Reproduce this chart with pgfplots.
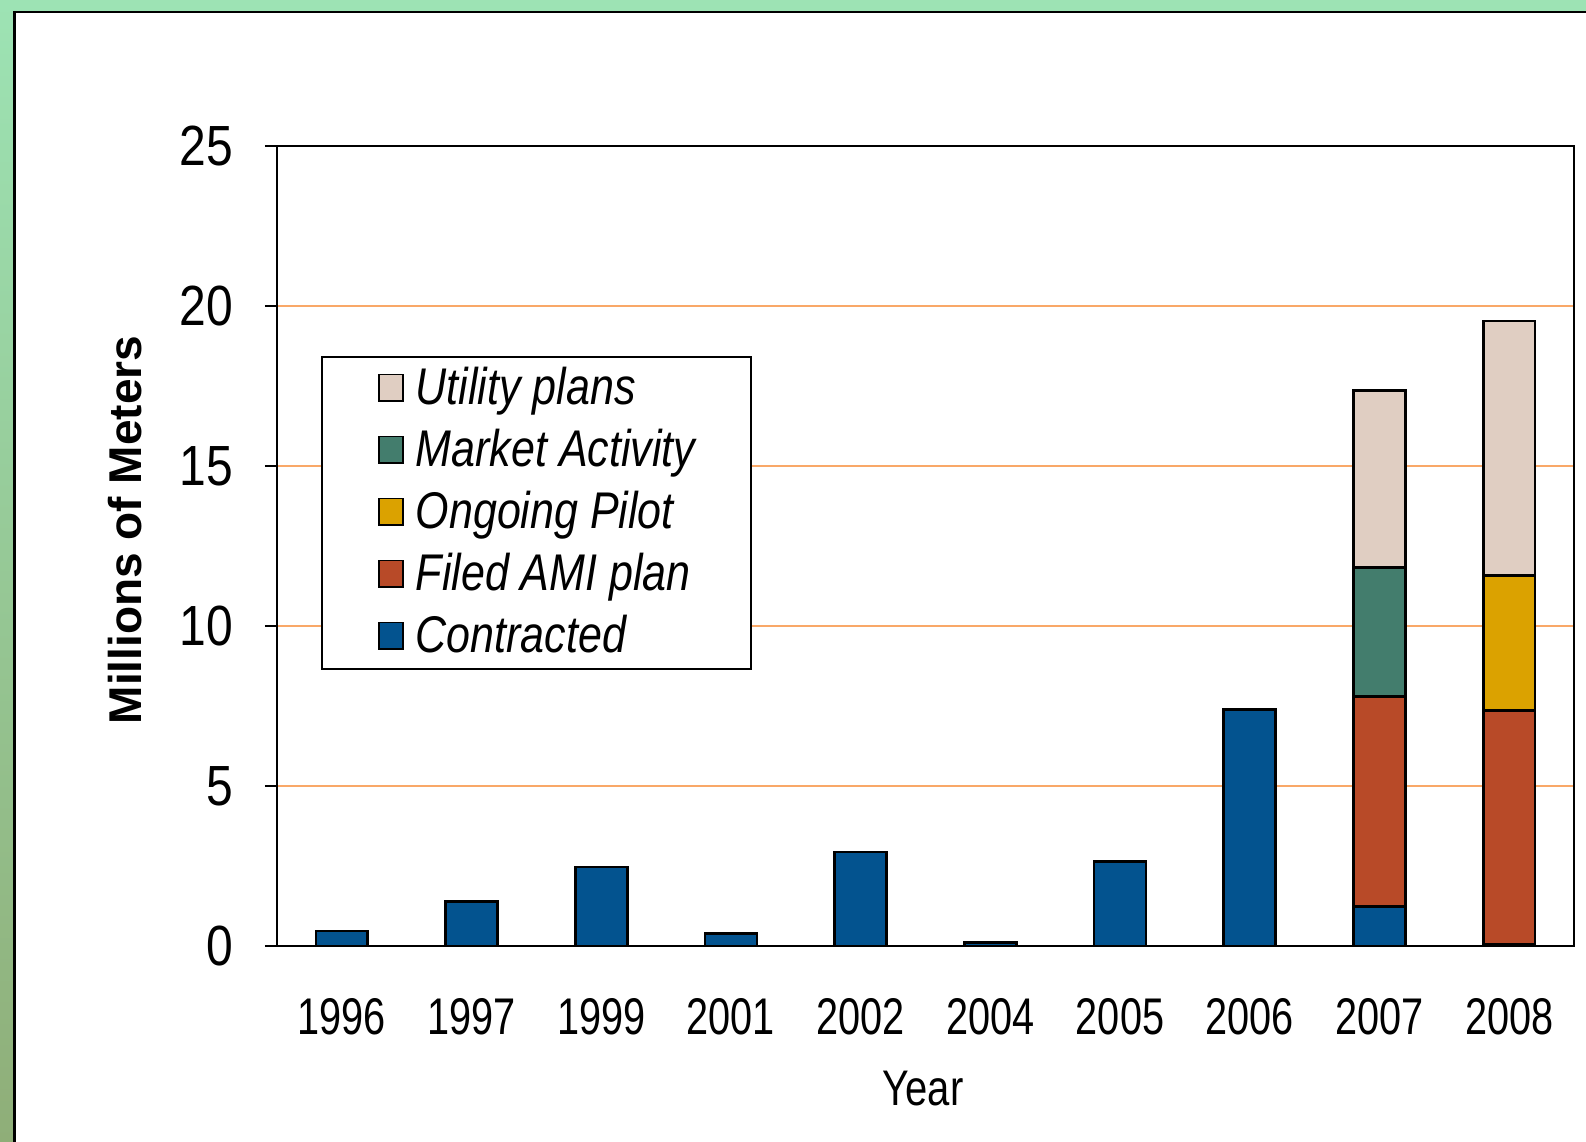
\documentclass[border=0pt]{standalone}
\usepackage{pgfplots}
\pgfplotsset{compat=1.18}
\usepackage{fontspec}
\setmainfont{Liberation Sans}

\definecolor{contracted}{HTML}{03538F}
\definecolor{filed}{HTML}{B84A28}
\definecolor{pilot}{HTML}{DBA200}
\definecolor{market}{HTML}{437D6D}
\definecolor{utility}{HTML}{E0CEC2}
\definecolor{gridorange}{HTML}{F9A868}
\definecolor{frametop}{HTML}{9DE3B4}
\definecolor{framebot}{HTML}{8FAE78}

\pgfplotsset{
  segment/.style={fill=#1, draw=black, line width=0.8pt,
    legend image code/.code={\draw[fill=#1, draw=black, line width=0.5pt] (0pt,-3.7pt) rectangle (7.3pt,4.3pt);}},
}

\begin{document}
\begin{tikzpicture}
% screenshot frame, in pixels of the 1586x1142 image (1px = 0.3pt)
\begin{scope}[x=0.3pt, y=0.3pt]
\useasboundingbox (0,0) rectangle (1586,1142);
\fill[white] (0,0) rectangle (1586,1142);
\shade[top color=frametop, bottom color=framebot] (0,0) rectangle (14,1142);
\fill[frametop] (0,1130) rectangle (1586,1142);
\draw[black, line width=0.8pt] (14.5,0) -- (14.5,1130) -- (1586,1130);
\end{scope}

\begin{axis}[
  at={(83.1pt,58.8pt)}, anchor=south west,
  scale only axis,
  width=389.1pt, height=240pt,
  xmin=-0.5, xmax=9.5,
  ymin=0, ymax=25,
  ybar stacked,
  bar width=0.4,
  axis line style={line width=0.7pt},
  tick pos=left,
  tick align=outside,
  major tick length=3.6pt,
  tick style={black, line width=0.6pt},
  xtick={0,...,9},
  xticklabels={1996,1997,1999,2001,2002,2004,2005,2006,2007,2008},
  major x tick style={draw=none},
  extra x ticks={-0.5,1.5,3.5,5.5,7.5,9.5},
  extra x tick labels={},
  extra x tick style={grid=none, major tick length=4.8pt, tick style={draw=black, line width=0.6pt}},
  ytick={0,5,...,25},
  ymajorgrids=true,
  grid style={gridorange, line width=0.7pt},
  /pgf/number format/assume math mode=true,
  xticklabel style={font=\fontsize{11.9}{12}\selectfont, yscale=1.3, anchor=center, yshift=-13.5pt},
  yticklabel style={font=\fontsize{14.4}{14.4}\selectfont, yscale=1.18, anchor=east, xshift=-6pt},
  xlabel={Year},
  xlabel style={font=\fontsize{12}{12}\selectfont, yscale=1.25, at={(axis description cs:0.498,-0.178)}, anchor=center},
  ylabel={\bfseries Millions of Meters},
  ylabel style={font=\fontsize{13.8}{14}\selectfont, at={(axis description cs:-0.117,0.52)}, anchor=center},
  reverse legend,
  legend cell align=left,
  legend style={at={(axis description cs:0.034,0.7375)}, anchor=north west,
    draw=black, line width=0.6pt, fill=white,
    font=\itshape\fontsize{12.9}{13}\selectfont,
    inner xsep=16.8pt, inner ysep=3.3pt,
    row sep=6pt,
    /tikz/every odd column/.style={column sep=3.5pt},
    nodes={text height=9.2pt, text depth=1.3pt, inner ysep=0pt, inner xsep=0pt, yscale=1.2}},
]
% Contracted
\addplot+[segment=contracted] coordinates {
(0,0.47) (1,1.39) (2,2.47) (3,0.38) (4,2.94) (5,0.10) (6,2.65) (7,7.40) (8,1.23) (9,0.05)};
\addlegendentry{Contracted}
% Filed AMI plan
\addplot+[segment=filed] coordinates {
(0,0) (1,0) (2,0) (3,0) (4,0) (5,0) (6,0) (7,0) (8,6.57) (9,7.31)};
\addlegendentry{Filed AMI plan}
% Ongoing Pilot
\addplot+[segment=pilot] coordinates {
(0,0) (1,0) (2,0) (3,0) (4,0) (5,0) (6,0) (7,0) (8,0) (9,4.21)};
\addlegendentry{Ongoing Pilot}
% Market Activity
\addplot+[segment=market] coordinates {
(0,0) (1,0) (2,0) (3,0) (4,0) (5,0) (6,0) (7,0) (8,4.02) (9,0)};
\addlegendentry{Market Activity}
% Utility plans
\addplot+[segment=utility] coordinates {
(0,0) (1,0) (2,0) (3,0) (4,0) (5,0) (6,0) (7,0) (8,5.53) (9,7.96)};
\addlegendentry{Utility plans}
\end{axis}
\end{tikzpicture}
\end{document}
